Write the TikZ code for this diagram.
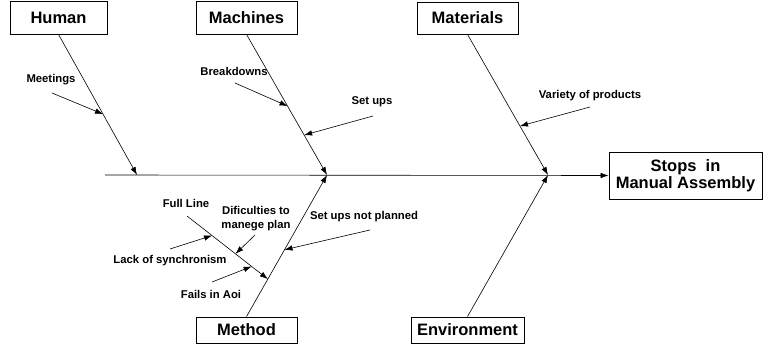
\documentclass[tikz,border=0pt]{standalone}
\usepackage{fontspec}
\setmainfont{Liberation Sans}
\usetikzlibrary{arrows.meta,calc,shadows}
\begin{document}
\begin{tikzpicture}[x=1pt,y=-1pt,
  catbox/.style={draw=black,line width=0.8pt,fill=white,inner sep=0pt,
    font=\fontsize{16.5}{18}\selectfont\bfseries,
    drop shadow={shadow xshift=1.3pt,shadow yshift=-1.3pt,fill=black,opacity=0.8}},
  lbl/.style={inner sep=0pt,font=\fontsize{11.3}{13.5}\selectfont\bfseries,align=center},
  bone/.style={line width=0.6pt,-{Latex[length=8pt,width=5.5pt]}},
  sub/.style={line width=0.6pt,-{Latex[length=8pt,width=5.5pt]}}]
\useasboundingbox (0,0) rectangle (763,344);
% boxes
\node[catbox,minimum width=97pt,minimum height=33pt] (human) at (58.5,17.5) {Human};
\node[catbox,minimum width=101pt,minimum height=33pt] (mach) at (246.5,17.5) {Machines};
\node[catbox,minimum width=101pt,minimum height=32pt] (mat) at (467.5,18) {Materials};
\node[catbox,minimum width=101pt,minimum height=26pt] (meth) at (246.5,330) {Method};
\node[catbox,minimum width=113pt,minimum height=26pt] (env) at (467.5,330) {Environment};
\node[catbox,minimum width=153pt,minimum height=47pt,align=center] (stops) at (685.5,175.5) {Stops~~in\\[-1pt]Manual Assembly};
% spine
\coordinate (s0) at (105,175);
\coordinate (hE) at (137,175);
\coordinate (mE) at (327,175);
\coordinate (tE) at (548,175);
\draw[bone] (s0) -- (stops.west);
\draw[bone] (human.south) -- (hE);
\draw[bone] (mach.south) -- (mE);
\draw[bone] (mat.south) -- (tE);
\draw[bone] (meth.north) -- (mE);
\draw[bone] (env.north) -- (tE);
% labels
\node[lbl] (meet) at (51,80) {Meetings};
\node[lbl] (brk) at (234,71) {Breakdowns};
\node[lbl] (setu) at (372,102) {Set ups};
\node[lbl] (var) at (590,96) {Variety of products};
\node[lbl] (full) at (186,203) {Full Line};
\node[lbl] (dif) at (256,218.5) {Dificulties to\\manege plan};
\node[lbl] (lack) at (170,261) {Lack of synchronism};
\node[lbl] (fail) at (211,294) {Fails in Aoi};
\node[lbl] (sunp) at (364,217) {Set ups not planned};
% sub-cause arrows
\coordinate (meetS) at (52,93);
\draw[sub] (meetS) -- ($(human.south)!0.567!(hE)$);
\coordinate (brkS) at (235,83);
\draw[sub] (brkS) -- ($(mach.south)!0.51!(mE)$);
\coordinate (setuS) at (373,116);
\draw[sub] (setuS) -- ($(mach.south)!0.716!(mE)$);
\coordinate (varS) at (590,107);
\draw[sub] (varS) -- ($(mat.south)!0.652!(tE)$);
\coordinate (sunpS) at (370,230);
\draw[sub] (sunpS) -- ($(meth.north)!0.472!(mE)$);
% Full Line bone
\coordinate (flS) at (187,216);
\coordinate (flE) at ($(meth.north)!0.265!(mE)$);
\draw[sub] (flS) -- (flE);
\coordinate (difS) at (255,235);
\draw[sub] (difS) -- ($(flS)!0.6!(flE)$);
\coordinate (lackS) at (170,249);
\draw[sub] (lackS) -- ($(flS)!0.31!(flE)$);
\coordinate (failS) at (212,282);
\draw[sub] (failS) -- ($(flS)!0.8!(flE)$);
\end{tikzpicture}
\end{document}
